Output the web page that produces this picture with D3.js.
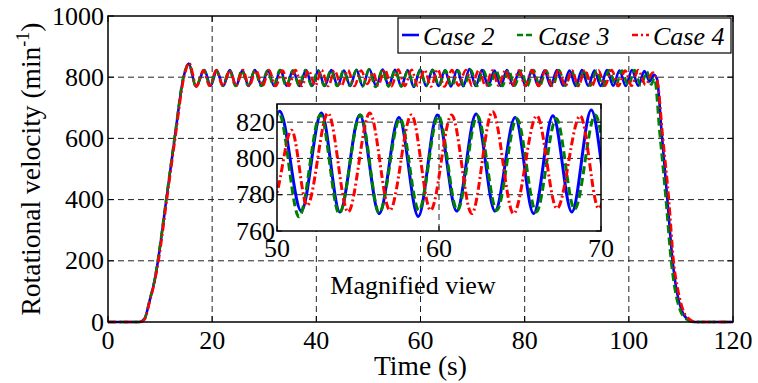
<!DOCTYPE html>
<html>
<head>
<meta charset="utf-8">
<script src="https://cdn.jsdelivr.net/npm/d3@7"></script>
<style>
  body { margin: 0; background: #fff; }
  svg { display: block; }
</style>
</head>
<body>
<svg id="chart" width="758" height="383"></svg>
<script>
// ---- data ----
const xTicks = [0, 20, 40, 60, 80, 100, 120];
const yTicks = [0, 200, 400, 600, 800, 1000];
const insetXTicks = [50, 60, 70];
const insetYTicks = [760, 780, 800, 820];
const seriesNames = ["Case 2", "Case 3", "Case 4"];

// [time (s), rotational velocity (min^-1)] - ramp points and oscillation extrema
const case2 = [
  [0,0],[6,0],[7,10],[8,70],[9,140],[9.6,200],[11.2,400],[12.8,600],[14.5,800],[15.5,845],
  [16.9,769],[18.5,823],[19.7,772],[20.9,822],[22.1,771],[23.4,823],[24.6,772],[25.8,822],[27.0,771],[28.2,823],
  [29.5,772],[30.7,822],[31.9,771],[33.1,823],[34.3,772],[35.5,822],[36.8,771],[38.0,823],[39.2,772],[40.4,822],
  [41.6,771],[42.9,823],[44.1,772],[45.3,822],[46.5,771],[47.7,824],[48.9,771],
  [50.16,826],[51.5,771],[52.74,825],[53.88,770.5],[55.11,824],[56.31,769.6],[57.53,822.5],[58.72,768],[59.9,824],
  [61.09,771],[62.29,824.5],[63.46,771],[64.7,822.5],[65.84,769.6],[67.03,823.5],[68.2,770.5],[69.4,826.7],
  [70.6,771],[71.8,823],[73.0,772],[74.2,822],[75.4,771],[76.6,823],[77.8,772],[79.0,822],[80.2,771],[81.4,823],
  [82.6,772],[83.8,822],[85.0,771],[86.2,823],[87.4,772],[88.6,822],[89.8,771],[91.0,823],[92.2,772],[93.4,822],
  [94.6,771],[95.8,823],[97.0,772],[98.2,822],[99.4,771],[100.6,823],[101.8,772],[103.0,820],[104.0,786],[104.8,808],
  [105.4,795],[106.3,620],[107.4,400],[108.4,200],[109.2,100],[110.1,40],[111.2,10],[112.6,0],[120,0]
];
const case3 = [
  [0,0],[6,0],[7,10],[8,72],[9,142],[9.6,205],[11.2,405],[12.8,605],[14.5,802],[15.5,843],
  [16.9,770],[18.4,823],[19.6,771],[20.8,822],[22.0,772],[23.3,823],[24.5,771],[25.7,822],[26.9,772],[28.2,823],
  [29.4,771],[30.6,822],[31.8,772],[33.0,823],[34.2,771],[35.5,822],[36.7,772],[37.9,823],[39.1,771],[40.3,822],
  [41.5,772],[42.8,823],[44.0,771],[45.2,822],[46.4,772],[47.7,823],[48.9,770],
  [50.1,825.5],[51.36,767.8],[52.68,824],[53.84,769.6],[55.15,824],[56.31,770],[57.59,822],[58.76,771.4],[59.96,823.5],
  [61.13,771.4],[62.37,823.5],[63.56,771.4],[64.8,822],[66.0,770.5],[67.24,822],[68.37,772],[69.65,824],
  [70.85,771],[72.05,823],[73.3,772],[74.5,822],[75.7,771],[76.9,823],[78.1,772],[79.3,822],[80.5,771],[81.7,823],
  [82.9,772],[84.1,822],[85.4,771],[86.6,823],[87.8,772],[89.0,822],[90.2,771],[91.4,823],[92.6,772],[93.8,822],
  [95.0,771],[96.2,823],[97.5,772],[98.7,822],[99.9,771],[101.1,823],[102.3,772],[103.5,818],[104.3,776],[104.9,796],
  [105.9,620],[107.1,400],[108.1,200],[108.9,100],[109.8,40],[111.0,10],[112.4,0],[120,0]
];
const case4 = [
  [0,0],[6.1,0],[7,8],[8,66],[9,136],[9.7,200],[11.3,400],[12.9,600],[14.6,800],[15.6,846],
  [17.0,770],[18.3,822],[19.5,772],[20.8,823],[22.1,771],[23.4,822],[24.6,772],[25.9,823],[27.1,771],[28.4,822],
  [29.7,772],[30.9,823],[32.2,771],[33.5,822],[34.7,772],[36.0,823],[37.2,771],[38.5,822],[39.8,772],[41.0,823],
  [42.3,771],[43.5,822],[44.8,772],[46.1,823],[47.3,771],[48.6,822],[49.8,778],
  [50.9,815.6],[51.86,774],[53.15,825],[54.39,770.5],[55.73,825],[56.97,771.4],[58.3,824],[59.48,771.4],[60.78,824],
  [62.02,769.6],[63.3,825.8],[64.6,769.6],[66.04,823.5],[67.28,772.4],[68.72,823.5],[69.86,772.4],
  [71.2,823],[72.5,771],[73.8,822],[75.0,772],[76.3,823],[77.6,771],[78.9,822],[80.1,772],[81.4,823],[82.7,771],
  [84.0,822],[85.2,772],[86.5,823],[87.8,771],[89.1,822],[90.3,772],[91.6,823],[92.9,771],[94.2,822],[95.4,772],
  [96.7,823],[98.0,771],[99.3,822],[100.5,772],[101.8,823],[103.2,775],[104.6,815],
  [105.5,785],[106.5,610],[107.7,400],[108.6,200],[109.5,100],[110.4,40],[111.6,10],[113.0,0],[120,0]
];

const series = [
  { name: seriesNames[0], values: case2, color: "#0000ff", dash: null, legendDash: null },
  { name: seriesNames[1], values: case3, color: "#008000", dash: "8,4", legendDash: "6,3" },
  { name: seriesNames[2], values: case4, color: "#ff0000", dash: "8,3,2,3", legendDash: "6,3,2,3" }
];

// ---- layout ----
const plot = { left: 108, right: 733, top: 16, bottom: 322 };
const inset = { left: 277, right: 601, top: 104, bottom: 231 };
const tickFont = 26, labelFont = 27.5;
const serif = '"Liberation Serif"';

const svg = d3.select("#chart");

const x = d3.scaleLinear().domain([0, 120]).range([plot.left, plot.right]);
const y = d3.scaleLinear().domain([0, 1000]).range([plot.bottom, plot.top]);

const xi = d3.scaleLinear().domain([50, 70]).range([inset.left, inset.right]);
const yi = d3.scaleLinear().domain([760, 830]).range([inset.bottom, inset.top]);

// dashed grid
function grid(g, xs, ys, xv, yv, box) {
  g.selectAll("line.gx").data(xv).join("line")
    .attr("x1", d => xs(d)).attr("x2", d => xs(d))
    .attr("y1", box.top).attr("y2", box.bottom);
  g.selectAll("line.gy").data(yv).join("line")
    .attr("y1", d => ys(d)).attr("y2", d => ys(d))
    .attr("x1", box.left).attr("x2", box.right);
  g.selectAll("line")
    .attr("stroke", "#222").attr("stroke-width", 1)
    .attr("stroke-dasharray", "6,4");
}

grid(svg.append("g"), x, y, xTicks.slice(1, -1), yTicks.slice(1, -1), plot);

// main lines
const line = d3.line()
  .x(d => x(d[0])).y(d => y(d[1]))
  .curve(d3.curveMonotoneX);

svg.append("g")
  .attr("fill", "none")
  .attr("stroke-width", 2.6)
  .attr("stroke-linejoin", "round")
  .selectAll("path")
  .data(series)
  .join("path")
  .attr("stroke", d => d.color)
  .attr("stroke-dasharray", d => d.dash)
  .attr("d", d => line(d.values));

// box with inward ticks on all four sides
function frame(g, xs, ys, xv, yv, box, tick) {
  g.append("rect")
    .attr("x", box.left).attr("y", box.top)
    .attr("width", box.right - box.left).attr("height", box.bottom - box.top)
    .attr("fill", "none").attr("stroke", "#000").attr("stroke-width", 1.5);
  const t = g.append("g").attr("stroke", "#000").attr("stroke-width", 1);
  xv.forEach(v => {
    t.append("line").attr("x1", xs(v)).attr("x2", xs(v)).attr("y1", box.bottom).attr("y2", box.bottom - tick);
    t.append("line").attr("x1", xs(v)).attr("x2", xs(v)).attr("y1", box.top).attr("y2", box.top + tick);
  });
  yv.forEach(v => {
    t.append("line").attr("y1", ys(v)).attr("y2", ys(v)).attr("x1", box.left).attr("x2", box.left + tick);
    t.append("line").attr("y1", ys(v)).attr("y2", ys(v)).attr("x1", box.right).attr("x2", box.right - tick);
  });
}

frame(svg.append("g"), x, y, xTicks, yTicks, plot, 6);

svg.append("g").selectAll("text").data(xTicks).join("text")
  .attr("x", d => x(d)).attr("y", 349)
  .attr("text-anchor", "middle").attr("font-size", tickFont)
  .style("font-family", serif)
  .text(d => d);

svg.append("g").selectAll("text").data(yTicks).join("text")
  .attr("x", plot.left - 4).attr("y", d => y(d)).attr("dy", "0.33em")
  .attr("text-anchor", "end").attr("font-size", tickFont)
  .style("font-family", serif)
  .text(d => d);

svg.append("text")
  .attr("x", (plot.left + plot.right) / 2).attr("y", 375)
  .attr("text-anchor", "middle").attr("font-size", labelFont)
  .style("font-family", serif)
  .text("Time (s)");

const ylab = svg.append("text")
  .attr("transform", `translate(40,${(plot.top + plot.bottom) / 2}) rotate(-90)`)
  .attr("text-anchor", "middle").attr("font-size", labelFont)
  .style("font-family", serif);
ylab.append("tspan").text("Rotational velocity (min");
ylab.append("tspan").attr("dy", -11).attr("font-size", 18).text("-1");
ylab.append("tspan").attr("dy", 11).text(")");

// ---- inset (magnified view) ----
const ins = svg.append("g");
ins.append("rect")
  .attr("x", inset.left).attr("y", inset.top)
  .attr("width", inset.right - inset.left).attr("height", inset.bottom - inset.top)
  .attr("fill", "#fff");

grid(ins.append("g"), xi, yi, [60], [780, 800, 820], inset);

svg.append("clipPath").attr("id", "inset-clip")
  .append("rect")
  .attr("x", inset.left).attr("y", inset.top)
  .attr("width", inset.right - inset.left).attr("height", inset.bottom - inset.top);

const lineInset = d3.line()
  .x(d => xi(d[0])).y(d => yi(d[1]))
  .curve(d3.curveMonotoneX);

ins.append("g")
  .attr("clip-path", "url(#inset-clip)")
  .attr("fill", "none")
  .attr("stroke-width", 3)
  .attr("stroke-linejoin", "round")
  .selectAll("path")
  .data(series)
  .join("path")
  .attr("stroke", d => d.color)
  .attr("stroke-dasharray", d => d.dash)
  .attr("d", d => lineInset(d.values.filter(p => p[0] >= 45 && p[0] <= 75)));

frame(ins.append("g"), xi, yi, insetXTicks, insetYTicks, inset, 5);

ins.append("g").selectAll("text").data(insetXTicks).join("text")
  .attr("x", d => xi(d)).attr("y", 257)
  .attr("text-anchor", "middle").attr("font-size", tickFont)
  .style("font-family", serif)
  .text(d => d);

ins.append("g").selectAll("text").data(insetYTicks).join("text")
  .attr("x", inset.left - 2).attr("y", d => yi(d)).attr("dy", "0.33em")
  .attr("text-anchor", "end").attr("font-size", tickFont)
  .style("font-family", serif)
  .text(d => d);

ins.append("text")
  .attr("x", 413).attr("y", 294)
  .attr("text-anchor", "middle").attr("font-size", tickFont)
  .style("font-family", serif)
  .text("Magnified view");

// ---- legend ----
const legend = svg.append("g");
legend.append("rect")
  .attr("x", 398).attr("y", 18).attr("width", 333).attr("height", 35)
  .attr("fill", "#fff").attr("stroke", "#000").attr("stroke-width", 1.2);

const legendX = [402, 517, 632];
const items = legend.selectAll("g.item").data(series).join("g")
  .attr("transform", (d, i) => `translate(${legendX[i]},0)`);
items.append("line")
  .attr("x1", 0).attr("x2", 17).attr("y1", 35).attr("y2", 35)
  .attr("stroke", d => d.color).attr("stroke-width", 2.6)
  .attr("stroke-dasharray", d => d.legendDash);
items.append("text")
  .attr("x", 21).attr("y", 45)
  .attr("font-size", tickFont).attr("font-style", "italic")
  .style("font-family", serif)
  .text(d => d.name);
</script>
</body>
</html>
